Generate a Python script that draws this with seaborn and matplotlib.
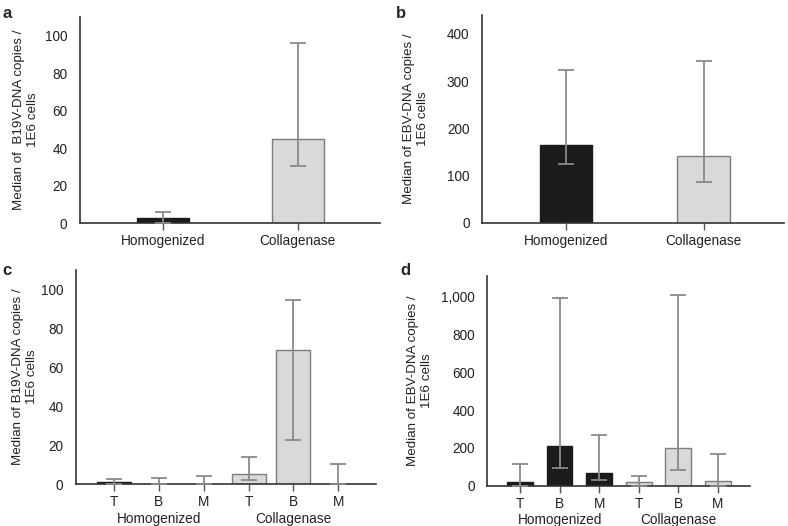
import numpy as np
import pandas as pd
import matplotlib
matplotlib.use("Agg")
import matplotlib.pyplot as plt
import matplotlib.ticker as mticker
import seaborn as sns

sns.set_style("white")
plt.rcParams['font.family'] = ['Liberation Sans', 'DejaVu Sans']

# panel a / b : two methods
methods = ["Homogenized", "Collagenase"]
b19_med = [2.5, 44.6]
b19_lo = [0.0, 30.3]
b19_hi = [5.7, 96.2]
ebv_med = [165, 142]
ebv_lo = [125, 87]
ebv_hi = [323, 343]

# panel c / d : cell fractions per method
fractions = ["T", "B", "M", "T", "B", "M"]
groups = ["Homogenized"] * 3 + ["Collagenase"] * 3
b19_frac_med = [0.8, 0.0, 0.0, 5.3, 68.8, 0.0]
b19_frac_lo = [0.0, 0.0, 0.0, 1.9, 22.4, 0.0]
b19_frac_hi = [2.6, 3.1, 4.0, 13.8, 94.8, 10.5]
ebv_frac_med = [21, 209, 66, 20, 198, 23]
ebv_frac_lo = [0, 96, 29, 0, 82, 0]
ebv_frac_hi = [115, 996, 271, 53, 1010, 170]

BLACK = "#1b1b1b"
GREY = "#d9d9d9"
EDGE = "#7c7c7c"
ERR = "#8a8a8a"
TXT = "#222222"

fig = plt.figure(figsize=(7.88, 5.26), dpi=100)
ax_a = fig.add_axes([0.1015, 0.576, 0.3805, 0.392])
ax_b = fig.add_axes([0.6117, 0.5766, 0.3833, 0.3949])
ax_c = fig.add_axes([0.0964, 0.0798, 0.3806, 0.4069])
ax_d = fig.add_axes([0.6184, 0.0766, 0.3336, 0.3987])


def draw(ax, keys, med, lo, hi, colors, width, ylim, yticks, ylabel, xlim, labx):
    df = pd.DataFrame({"key": keys, "val": med})
    sns.barplot(data=df, x="key", y="val", hue="key", order=keys,
                palette=dict(zip(keys, colors)), legend=False, width=width,
                ax=ax, errorbar=None, linewidth=1.0)
    for patch, c in zip(ax.patches, colors):
        patch.set_edgecolor(BLACK if c == BLACK else EDGE)
    pos = np.arange(len(keys))
    yerr = [np.array(med) - np.array(lo), np.array(hi) - np.array(med)]
    ax.errorbar(pos, med, yerr=yerr, fmt="none", ecolor=ERR,
                elinewidth=1.3, capsize=6, capthick=1.3, zorder=5)
    ax.set_ylim(*ylim)
    ax.set_xlim(*xlim)
    ax.set_yticks(yticks)
    ax.set_ylabel(ylabel, fontsize=9.6, color=TXT)
    ax.yaxis.set_label_coords(labx, 0.5)
    ax.set_xlabel("")
    sns.despine(ax=ax)
    for s in ["left", "bottom"]:
        ax.spines[s].set_color("#333333")
        ax.spines[s].set_linewidth(1.2)
    ax.tick_params(axis="x", length=5, width=1.0, color="#555555",
                   labelsize=9.8, pad=3, bottom=True, labelcolor=TXT)
    ax.tick_params(axis="y", length=0, labelsize=9.8, pad=9, left=False,
                   labelcolor=TXT)


draw(ax_a, methods, b19_med, b19_lo, b19_hi, [BLACK, GREY], 0.385, (0, 110),
     [0, 20, 40, 60, 80, 100],
     "Median of  B19V-DNA copies /\n1E6 cells", (-0.615, 1.61), -0.137)
draw(ax_b, methods, ebv_med, ebv_lo, ebv_hi, [BLACK, GREY], 0.38, (0, 440),
     [0, 100, 200, 300, 400],
     "Median of EBV-DNA copies /\n1E6 cells", (-0.61, 1.585), -0.175)

keys_frac = [g + " " + f for g, f in zip(groups, fractions)]
frac_colors = [BLACK] * 3 + [GREY] * 3
draw(ax_c, keys_frac, b19_frac_med, b19_frac_lo, b19_frac_hi, frac_colors,
     0.76, (0, 110), [0, 20, 40, 60, 80, 100],
     "Median of B19V-DNA copies /\n1E6 cells", (-0.85, 5.84), -0.127)
draw(ax_d, keys_frac, ebv_frac_med, ebv_frac_lo, ebv_frac_hi, frac_colors,
     0.65, (0, 1110), [0, 200, 400, 600, 800, 1000],
     "Median of EBV-DNA copies /\n1E6 cells", (-0.83, 5.82), -0.207)
ax_d.yaxis.set_major_formatter(mticker.StrMethodFormatter("{x:,.0f}"))

for ax in (ax_c, ax_d):
    ax.set_xticks(range(len(fractions)))
    ax.set_xticklabels(fractions)
    for i, g in enumerate(["Homogenized", "Collagenase"]):
        ax.annotate(g, xy=(3 * i + 1, 0), xycoords=("data", "axes fraction"),
                    xytext=(0, -25), textcoords="offset points",
                    ha="center", va="center", fontsize=9.8, color=TXT)

for lab, x, y in [("a", 0.003, 0.988), ("b", 0.503, 0.988),
                  ("c", 0.003, 0.5), ("d", 0.508, 0.5)]:
    fig.text(x, y, lab, fontsize=12, fontweight="bold", ha="left", va="top")

fig.savefig("out.png", dpi=100)
